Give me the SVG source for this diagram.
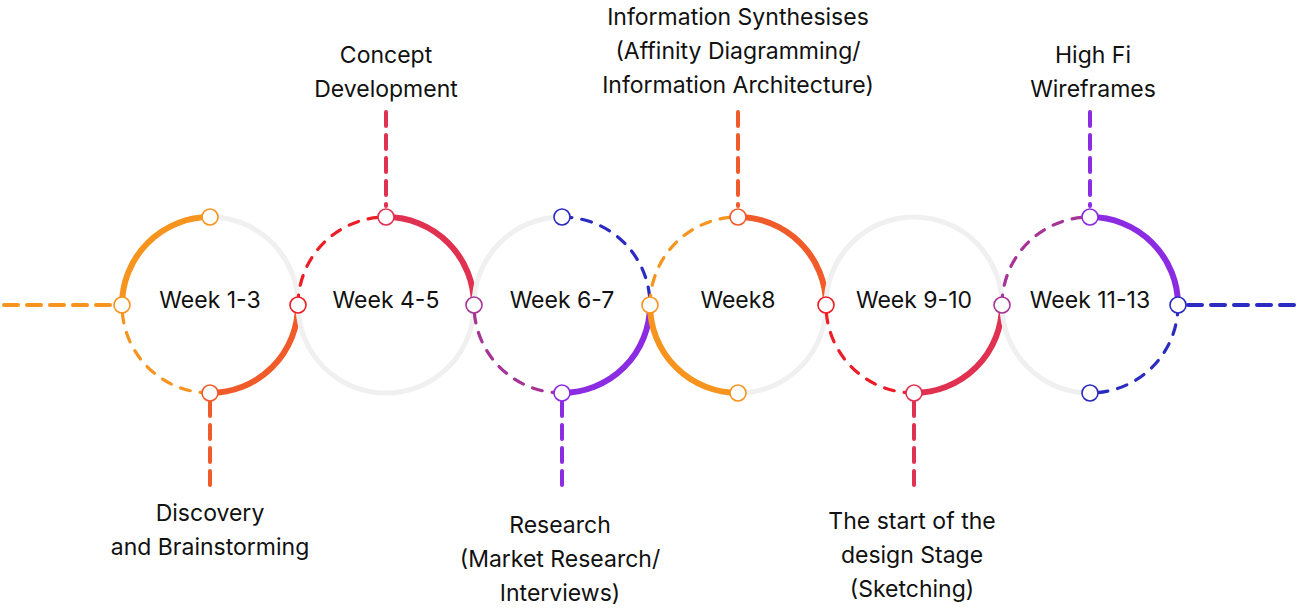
<svg xmlns="http://www.w3.org/2000/svg" width="1301" height="611" viewBox="0 0 1301 611">
<style>
.t{font-family:Inter,"Noto Sans","Liberation Sans",sans-serif;font-size:23px;fill:#111;text-anchor:middle}
.g{fill:none;stroke:#f0f0f0;stroke-width:5}
.s{fill:none;stroke-width:6}
.d{fill:none;stroke-width:3.2;stroke-dasharray:10 10;stroke-linecap:round}
.c{fill:none;stroke-width:4;stroke-dasharray:14 9;stroke-linecap:round}
.n{fill:#fff;stroke-width:1.6}
</style>
<rect width="1301" height="611" fill="#fff"/>
<g id="connectors">
<line class="c" x1="4" y1="305" x2="112" y2="305" stroke="#F7941D" stroke-width="4.5" stroke-dasharray="18 9"/>
<line class="c" x1="1188" y1="305" x2="1297" y2="305" stroke="#2B2BC1" stroke-width="4.5" stroke-dasharray="18 9"/>
<line class="c" x1="210" y1="402" x2="210" y2="494" stroke="#F15A29"/>
<line class="c" x1="386" y1="112" x2="386" y2="206" stroke="#E03150"/>
<line class="c" x1="562" y1="402" x2="562" y2="494" stroke="#8B2BE2"/>
<line class="c" x1="738" y1="112" x2="738" y2="206" stroke="#F15A29"/>
<line class="c" x1="914" y1="402" x2="914" y2="494" stroke="#E03150"/>
<line class="c" x1="1090" y1="112" x2="1090" y2="206" stroke="#8B2BE2"/>
</g>
<g id="week1">
<path class="g" d="M210,217 A88,88 0 0 1 298,305"/>
<path class="d" stroke="#F7941D" d="M210,393 A88,88 0 0 1 122,305"/>
<path class="s" stroke="#F7941D" d="M122,305 A88,88 0 0 1 210,217"/>
<path class="s" stroke="#F15A29" d="M298,305 A88,88 0 0 1 210,393"/>
<text class="t" x="210" y="308">Week 1-3</text>
</g>
<g id="week4">
<path class="g" d="M474,305 A88,88 0 0 1 298,305"/>
<path class="d" stroke="#EE1C25" d="M298,305 A88,88 0 0 1 386,217"/>
<path class="s" stroke="#E03150" d="M386,217 A88,88 0 0 1 474,305"/>
<text class="t" x="386" y="308">Week 4-5</text>
</g>
<g id="week6">
<path class="g" d="M474,305 A88,88 0 0 1 562,217"/>
<path class="d" stroke="#2B2BC1" d="M562,217 A88,88 0 0 1 650,305"/>
<path class="d" stroke="#A63396" d="M562,393 A88,88 0 0 1 474,305"/>
<path class="s" stroke="#8B2BE2" d="M650,305 A88,88 0 0 1 562,393"/>
<text class="t" x="562" y="308">Week 6-7</text>
</g>
<g id="week8">
<path class="g" d="M826,305 A88,88 0 0 1 738,393"/>
<path class="d" stroke="#F7941D" d="M650,305 A88,88 0 0 1 738,217"/>
<path class="s" stroke="#F15A29" d="M738,217 A88,88 0 0 1 826,305"/>
<path class="s" stroke="#F7941D" d="M738,393 A88,88 0 0 1 650,305"/>
<text class="t" x="738" y="308">Week8</text>
</g>
<g id="week9">
<path class="g" d="M826,305 A88,88 0 0 1 1002,305"/>
<path class="d" stroke="#EE1C25" d="M914,393 A88,88 0 0 1 826,305"/>
<path class="s" stroke="#E03150" d="M1002,305 A88,88 0 0 1 914,393"/>
<text class="t" x="914" y="308">Week 9-10</text>
</g>
<g id="week11">
<path class="g" d="M1090,393 A88,88 0 0 1 1002,305"/>
<path class="d" stroke="#A63396" d="M1002,305 A88,88 0 0 1 1090,217"/>
<path class="s" stroke="#8B2BE2" d="M1090,217 A88,88 0 0 1 1178,305"/>
<path class="d" stroke="#2B2BC1" d="M1178,305 A88,88 0 0 1 1090,393"/>
<text class="t" x="1090" y="308">Week 11-13</text>
</g>
<g id="points">
<circle class="n" cx="122" cy="305" r="8" stroke="#F7941D"/>
<circle class="n" cx="210" cy="217" r="8" stroke="#F7941D"/>
<circle class="n" cx="210" cy="393" r="8" stroke="#F15A29"/>
<circle class="n" cx="298" cy="305" r="8" stroke="#EE1C25"/>
<circle class="n" cx="386" cy="217" r="8" stroke="#E03150"/>
<circle class="n" cx="474" cy="305" r="8" stroke="#A63396"/>
<circle class="n" cx="562" cy="217" r="8" stroke="#2B2BC1"/>
<circle class="n" cx="562" cy="393" r="8" stroke="#8B2BE2"/>
<circle class="n" cx="650" cy="305" r="8" stroke="#F7941D"/>
<circle class="n" cx="738" cy="217" r="8" stroke="#F15A29"/>
<circle class="n" cx="738" cy="393" r="8" stroke="#F7941D"/>
<circle class="n" cx="826" cy="305" r="8" stroke="#EE1C25"/>
<circle class="n" cx="914" cy="393" r="8" stroke="#E03150"/>
<circle class="n" cx="1002" cy="305" r="8" stroke="#A63396"/>
<circle class="n" cx="1090" cy="217" r="8" stroke="#8B2BE2"/>
<circle class="n" cx="1178" cy="305" r="8" stroke="#2B2BC1"/>
<circle class="n" cx="1090" cy="393" r="8" stroke="#2B2BC1"/>
</g>
<g id="label-concept"><text class="t" x="386" y="63">Concept</text><text class="t" x="386" y="97">Development</text></g>
<g id="label-info"><text class="t" x="738" y="25">Information Synthesises</text><text class="t" x="738" y="59">(Affinity Diagramming/</text><text class="t" x="738" y="93">Information Architecture)</text></g>
<g id="label-hifi"><text class="t" x="1093" y="63">High Fi</text><text class="t" x="1093" y="97">Wireframes</text></g>
<g id="label-discovery"><text class="t" x="210" y="521">Discovery</text><text class="t" x="210" y="555">and Brainstorming</text></g>
<g id="label-research"><text class="t" x="560" y="533">Research</text><text class="t" x="560" y="567">(Market Research/</text><text class="t" x="560" y="601">Interviews)</text></g>
<g id="label-design"><text class="t" x="912" y="529">The start of the</text><text class="t" x="912" y="563">design Stage</text><text class="t" x="912" y="597">(Sketching)</text></g>
</svg>
